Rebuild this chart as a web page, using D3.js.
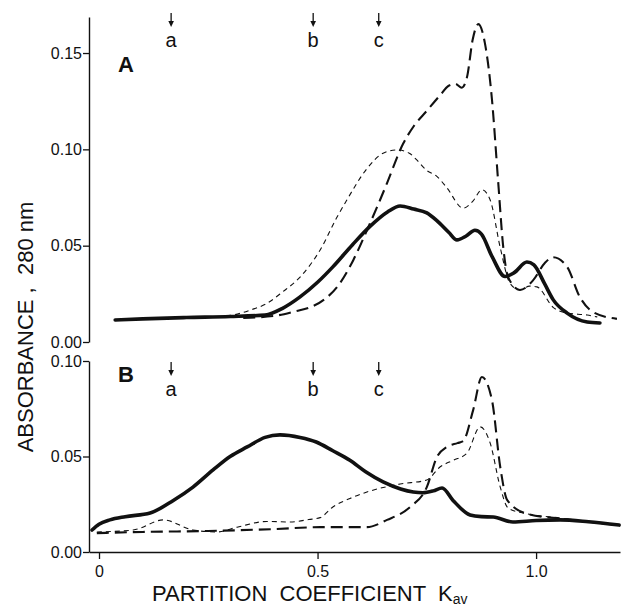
<!DOCTYPE html>
<html>
<head>
<meta charset="utf-8">
<script src="https://cdn.jsdelivr.net/npm/d3@7"></script>
<style>
  body { margin: 0; background: #fff; }
  svg { display: block; font-family: "Liberation Sans", Arial, sans-serif; }
  text { white-space: pre; }
</style>
</head>
<body>
<div id="chart"></div>
<script>
// Data: [Kav, absorbance]
const markerLabels = ["a", "b", "c"];
const markerK = [0.165, 0.49, 0.64];

const ticksA = [0, 0.05, 0.10, 0.15];
const ticksB = [0, 0.05, 0.10];
const ticksX = [0, 0.5, 1.0];

// Panel A
const solidA = [[0.037,0.0114],[0.10,0.0120],[0.20,0.0127],[0.30,0.0132],[0.38,0.0140],[0.42,0.0175],[0.46,0.0234],[0.50,0.031],[0.535,0.039],[0.58,0.0505],[0.62,0.0600],[0.66,0.0675],[0.689,0.0706],[0.72,0.069],[0.75,0.067],[0.773,0.063],[0.80,0.057],[0.819,0.053],[0.84,0.055],[0.86,0.058],[0.875,0.056],[0.90,0.044],[0.929,0.034],[0.95,0.036],[0.979,0.0415],[0.995,0.040],[1.02,0.030],[1.039,0.022],[1.071,0.015],[1.117,0.0104],[1.146,0.0099]];
const thinA = [[0.25,0.0128],[0.307,0.014],[0.345,0.0165],[0.384,0.020],[0.42,0.026],[0.46,0.0337],[0.506,0.0478],[0.545,0.065],[0.567,0.0737],[0.613,0.090],[0.65,0.098],[0.682,0.0997],[0.71,0.098],[0.727,0.0945],[0.75,0.089],[0.773,0.086],[0.796,0.080],[0.833,0.0695],[0.855,0.073],[0.876,0.079],[0.895,0.0737],[0.918,0.049],[0.94,0.0306],[0.963,0.027],[0.985,0.029],[1.002,0.0286],[1.039,0.018],[1.071,0.015],[1.117,0.014],[1.14,0.013]];
const longA = [[0.33,0.0125],[0.40,0.0135],[0.45,0.016],[0.483,0.018],[0.515,0.022],[0.545,0.0286],[0.582,0.0426],[0.613,0.058],[0.643,0.0737],[0.659,0.0825],[0.696,0.103],[0.72,0.112],[0.75,0.120],[0.78,0.128],[0.80,0.133],[0.815,0.134],[0.83,0.132],[0.842,0.1375],[0.855,0.157],[0.868,0.165],[0.883,0.155],[0.899,0.126],[0.913,0.084],[0.925,0.049],[0.936,0.0337],[0.963,0.027],[0.993,0.032],[1.02,0.041],[1.039,0.044],[1.071,0.039],[1.10,0.0234],[1.13,0.0156],[1.185,0.012]];

// Panel B
const solidB = [[-0.016,0.0115],[0.0,0.0145],[0.025,0.0168],[0.06,0.0185],[0.117,0.0204],[0.17,0.027],[0.215,0.034],[0.261,0.043],[0.30,0.050],[0.339,0.055],[0.38,0.060],[0.414,0.0613],[0.46,0.060],[0.497,0.0576],[0.535,0.053],[0.574,0.048],[0.61,0.042],[0.65,0.0367],[0.69,0.033],[0.719,0.0314],[0.741,0.031],[0.765,0.032],[0.785,0.0335],[0.81,0.027],[0.849,0.0194],[0.875,0.0185],[0.902,0.0183],[0.947,0.0157],[1.0,0.0165],[1.055,0.0168],[1.12,0.0158],[1.19,0.0141]];
const thinB = [[-0.005,0.0105],[0.078,0.0115],[0.147,0.0168],[0.215,0.0115],[0.27,0.0105],[0.316,0.013],[0.384,0.016],[0.437,0.0157],[0.48,0.017],[0.506,0.018],[0.535,0.0236],[0.574,0.028],[0.613,0.0314],[0.689,0.0356],[0.75,0.0377],[0.78,0.0445],[0.81,0.048],[0.842,0.0518],[0.872,0.0655],[0.895,0.057],[0.918,0.034],[0.936,0.023],[0.979,0.020],[1.055,0.0178],[1.12,0.0158],[1.19,0.0141]];
const longB = [[-0.005,0.0099],[0.10,0.0105],[0.25,0.011],[0.40,0.012],[0.506,0.013],[0.613,0.013],[0.659,0.0168],[0.712,0.0236],[0.75,0.034],[0.773,0.0497],[0.796,0.055],[0.82,0.057],[0.833,0.058],[0.856,0.0743],[0.876,0.0916],[0.899,0.0796],[0.918,0.0445],[0.934,0.0272],[0.979,0.020],[1.055,0.0175],[1.12,0.0158],[1.19,0.0141]];

const width = 621, height = 610;

const svg = d3.select("#chart").append("svg")
    .attr("width", width)
    .attr("height", height);

// scales
const x = d3.scaleLinear().domain([-0.0229, 1.192]).range([89, 620]);
const yA = d3.scaleLinear().domain([0, 0.1687]).range([342, 17]);
const yB = d3.scaleLinear().domain([0, 0.10]).range([552, 361]);

// styles per curve kind
const styles = {
    solid: { w: 3.6, dash: null },
    thin: { w: 1.1, dash: "5,4" },
    long: { w: 2.1, dash: "12,6" }
};

function drawPanel(yScale, ticks, series, letter, letterY, markerY) {
    const axis = d3.axisLeft(yScale)
        .tickValues(ticks)
        .tickFormat(d3.format(".2f"))
        .tickSize(6)
        .tickSizeOuter(0)
        .tickPadding(1);
    const g = svg.append("g")
        .attr("transform", "translate(89,0)")
        .call(axis);
    g.select(".domain").attr("stroke", "#111").attr("stroke-width", 1.4);
    g.selectAll(".tick line").attr("stroke", "#111").attr("stroke-width", 1.3);
    g.selectAll(".tick text")
        .attr("fill", "#111")
        .style("font-size", "16px");

    const line = d3.line()
        .x(d => x(d[0]))
        .y(d => yScale(d[1]))
        .curve(d3.curveMonotoneX);

    series.forEach(s => {
        svg.append("path")
            .datum(s.data)
            .attr("fill", "none")
            .attr("stroke", "#111")
            .attr("stroke-width", styles[s.kind].w)
            .attr("stroke-dasharray", styles[s.kind].dash)
            .attr("stroke-linejoin", "round")
            .attr("stroke-linecap", s.kind === "solid" ? "round" : "butt")
            .attr("d", line);
    });

    // panel letter
    svg.append("text")
        .attr("x", 118)
        .attr("y", letterY)
        .style("font-size", "22px")
        .style("font-weight", "bold")
        .attr("fill", "#111")
        .text(letter);

    // arrows a, b, c
    markerK.forEach((k, i) => {
        const px = x(k);
        svg.append("line")
            .attr("x1", px).attr("x2", px)
            .attr("y1", markerY).attr("y2", markerY + 9)
            .attr("stroke", "#111")
            .attr("stroke-width", 1.3);
        svg.append("path")
            .attr("d", `M${px - 2.8},${markerY + 8} L${px + 2.8},${markerY + 8} L${px},${markerY + 14} Z`)
            .attr("fill", "#111");
        svg.append("text")
            .attr("x", px)
            .attr("y", markerY + 34)
            .attr("text-anchor", "middle")
            .style("font-size", "20px")
            .attr("fill", "#111")
            .text(markerLabels[i]);
    });
}

drawPanel(yA, ticksA, [
    { kind: "thin", data: thinA },
    { kind: "long", data: longA },
    { kind: "solid", data: solidA }
], "A", 72, 13);

drawPanel(yB, ticksB, [
    { kind: "thin", data: thinB },
    { kind: "long", data: longB },
    { kind: "solid", data: solidB }
], "B", 382, 362);

// x axis (bottom of panel B)
const xAxis = d3.axisBottom(x)
    .tickValues(ticksX)
    .tickFormat(d => d === 0 ? "0" : d3.format(".1f")(d))
    .tickSize(7)
    .tickSizeOuter(0)
    .tickPadding(7);
const gx = svg.append("g")
    .attr("transform", "translate(0,552)")
    .call(xAxis);
gx.select(".domain").attr("stroke", "#111").attr("stroke-width", 1.4);
gx.selectAll(".tick line").attr("stroke", "#111").attr("stroke-width", 1.3);
gx.selectAll(".tick text").attr("fill", "#111").style("font-size", "16px");

// axis labels
const xl = svg.append("text")
    .attr("x", 152)
    .attr("y", 601)
    .style("font-size", "22px")
    .attr("fill", "#111")
    .text("PARTITION  COEFFICIENT  K");
xl.append("tspan")
    .attr("dy", 3)
    .style("font-size", "14px")
    .text("av");

svg.append("text")
    .attr("transform", "translate(33,327) rotate(-90)")
    .attr("text-anchor", "middle")
    .style("font-size", "22px")
    .attr("fill", "#111")
    .text("ABSORBANCE ,  280 nm");
</script>
</body>
</html>
